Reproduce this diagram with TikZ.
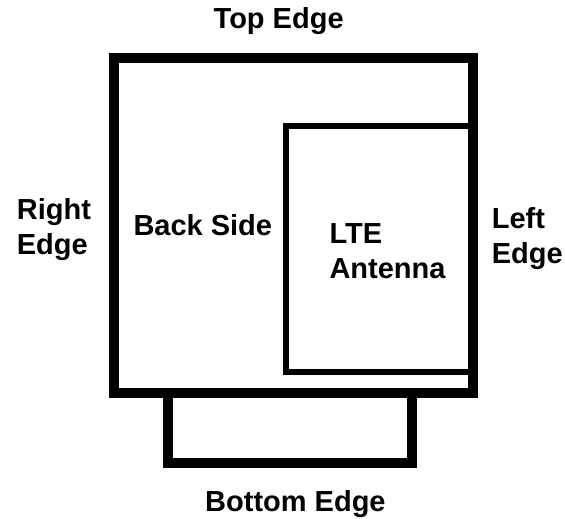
\documentclass[tikz,border=0pt]{standalone}
\usepackage{fontspec}
\setmainfont{Liberation Sans}
\begin{document}
\begin{tikzpicture}[x=1pt,y=-1pt,
  frame/.style={draw=black,line width=10pt},
  thin frame/.style={draw=black,line width=6pt},
  lbl/.style={inner sep=0pt,anchor=base west,align=left,
    font=\fontsize{29}{35}\selectfont\bfseries}]
\useasboundingbox (0,0) rectangle (565,519);
\draw[frame] (114,58) rectangle (472.7,392.5);
\draw[thin frame] (286.3,126.3) rectangle (470.7,372.3);
\draw[frame] (168.3,392.5) -- (168.3,462.7) -- (412.3,462.7) -- (412.3,392.5);
\node[lbl] (top) at (213.5,28.3) {Top Edge};
\node[lbl] (right) at (16.7,254) {Right\\Edge};
\node[lbl] (backside) at (133.3,235) {Back Side};
\node[lbl] (lte) at (329.3,278.3) {LTE\\Antenna};
\node[lbl] (left) at (491.7,263.3) {Left\\Edge};
\node[lbl] (bottom) at (205,511) {Bottom Edge};
\end{tikzpicture}
\end{document}
